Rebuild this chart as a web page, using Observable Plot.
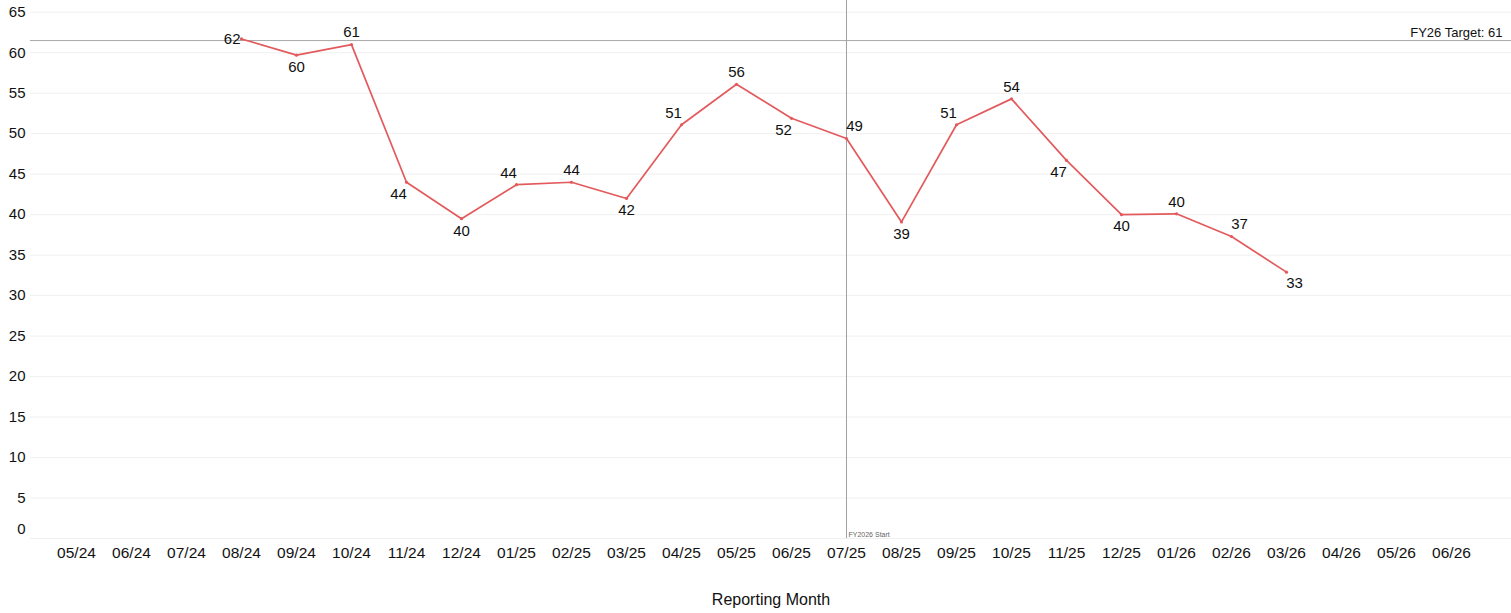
<!DOCTYPE html>
<html><head><meta charset="utf-8">
<script src="https://cdn.jsdelivr.net/npm/d3@7"></script>
<script src="https://cdn.jsdelivr.net/npm/@observablehq/plot@0.6"></script>
<style>
html,body{margin:0;padding:0;background:#fff;overflow:hidden}
#chart svg{display:block}
</style>
</head><body><div id="chart"></div>
<script>
const months = ["05/24","06/24","07/24","08/24","09/24","10/24","11/24","12/24","01/25","02/25","03/25","04/25","05/25","06/25","07/25","08/25","09/25","10/25","11/25","12/25","01/26","02/26","03/26","04/26","05/26","06/26"];
const dataMonths = ["08/24","09/24","10/24","11/24","12/24","01/25","02/25","03/25","04/25","05/25","06/25","07/25","08/25","09/25","10/25","11/25","12/25","01/26","02/26","03/26"];
const values = [61.7,59.7,61.0,44.0,39.5,43.7,44.0,42.0,51.1,56.1,51.9,49.4,39.1,51.1,54.3,46.7,40.0,40.1,37.3,32.9];
const yTicks = [0,5,10,15,20,25,30,35,40,45,50,55,60,65];
const target = 61.5;
const targetLabel = "FY26 Target: 61";
const fyStartMonth = "07/25";
const fyStartLabel = "FY2026 Start";
const xTitle = "Reporting Month";

const data = dataMonths.map((m, i) => {
  const v = values[i];
  const prev = i > 0 ? values[i - 1] : null;
  const next = i < values.length - 1 ? values[i + 1] : null;
  const nb = [prev, next].filter(d => d != null);
  const avg = d3.mean(nb);
  const above = v >= avg;
  let h = 0;
  if (prev != null && next != null) {
    const rising = prev < v && v < next;
    const falling = prev > v && v > next;
    if (rising) h = above ? -1 : 1;
    else if (falling) h = above ? 1 : -1;
  } else if (prev == null) h = -1; else h = 1;
  return {month: m, value: v, label: String(Math.round(v)), vpos: above ? "above" : "below", hpos: h, first: prev == null, last: next == null};
});

const font = "'Liberation Sans', Arial, sans-serif";
const red = "#e35a5c";

const labelMarks = [];
for (const vp of ["above", "below"]) {
  for (const hp of [-1, 0, 1]) {
    const subset = data.filter(d => d.vpos === vp && d.hpos === hp && !d.first && !d.last);
    if (!subset.length) continue;
    labelMarks.push(Plot.text(subset, {
      x: "month", y: "value", text: "label",
      dx: hp * 8, dy: vp === "above" ? -12 : 12,
      fontSize: 15, fill: "#111", lineAnchor: "middle"
    }));
  }
}
// endpoints
labelMarks.push(Plot.text(data.filter(d => d.first), {x: "month", y: "value", text: "label", textAnchor: "end", dx: -1, dy: 0, fontSize: 15, fill: "#111", lineAnchor: "middle"}));
labelMarks.push(Plot.text(data.filter(d => d.last), {x: "month", y: "value", text: "label", dx: 8, dy: 11, fontSize: 15, fill: "#111", lineAnchor: "middle"}));

const chart = Plot.plot({
  width: 1511,
  height: 613,
  marginLeft: 30,
  marginRight: 0,
  marginTop: 0,
  marginBottom: 75,
  style: {fontFamily: font, background: "#fff", overflow: "visible"},
  x: {type: "point", domain: months, padding: 0.9636, align: 0.434, label: null},
  y: {domain: [0, 66.45], label: null},
  marks: [
    Plot.ruleY(yTicks, {stroke: "#f0f0f0", strokeWidth: 1}),
    Plot.ruleX([0], {x: () => null, stroke: "#f0f0f0"}),
    Plot.ruleY([target], {stroke: "#a8a8a8", strokeWidth: 1}),
    Plot.ruleX([fyStartMonth], {x: d => d, stroke: "#a0a0a0", strokeWidth: 1}),
    Plot.text([fyStartLabel], {x: () => fyStartMonth, frameAnchor: "bottom", text: d => d, textAnchor: "start", lineAnchor: "bottom", dx: 2, dy: -2, fontSize: 7, fill: "#666"}),
    Plot.text([targetLabel], {y: () => target, frameAnchor: "right", text: d => d, textAnchor: "end", dx: -9, dy: -8, fontSize: 13, fill: "#111"}),
    Plot.axisY(yTicks.filter(d => d > 0), {tickSize: 0, tickPadding: 5, fontSize: 15, fill: "#111", label: null}),
    Plot.axisY([0], {tickSize: 0, tickPadding: 5, fontSize: 15, fill: "#111", dy: -9, label: null}),
    Plot.axisX({tickSize: 0, tickPadding: 8, fontSize: 15.5, fill: "#111", label: null}),
    Plot.text([xTitle], {frameAnchor: "bottom", text: d => d, lineAnchor: "middle", dy: 61, fontSize: 16, fill: "#111"}),
    Plot.line(data, {x: "month", y: "value", stroke: red, strokeWidth: 1.7}),
    Plot.dot(data, {x: "month", y: "value", fill: red, r: 1.6}),
    ...labelMarks
  ]
});
document.getElementById("chart").appendChild(chart);
</script>
</body></html>
